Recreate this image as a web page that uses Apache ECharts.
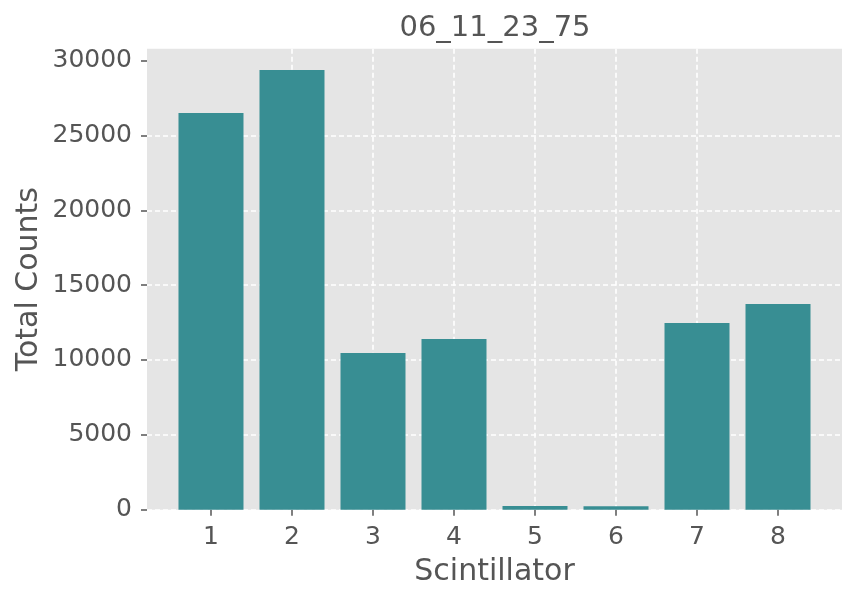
<!DOCTYPE html>
<html>
<head>
<meta charset="utf-8">
<script src="https://cdn.jsdelivr.net/npm/echarts@6/dist/echarts.min.js"></script>
<style>
html,body{margin:0;padding:0;background:#fff;}
#c{width:858px;height:601px;}
</style>
</head>
<body>
<div id="c"></div>
<script>
const titleText = '06_11_23_75';
const categories = [1, 2, 3, 4, 5, 6, 7, 8];
const counts = [26500, 29380, 10470, 11400, 240, 230, 12470, 13740];
const yTicks = [0, 5000, 10000, 15000, 20000, 25000, 30000];
const xName = 'Scintillator';
const yName = 'Total Counts';

const FONT = 'DejaVu Sans';
const TXT = '#555555';
const chart = echarts.init(document.getElementById('c'), null, {renderer: 'canvas'});
const gridLine = {show: true, lineStyle: {color: '#ffffff', width: 1.6, type: [5, 3]}, showMinLine: true, showMaxLine: false};

chart.setOption({
  animation: false,
  backgroundColor: '#ffffff',
  title: {
    text: titleText, left: 490, top: 9, textAlign: 'center',
    textStyle: {fontFamily: FONT, fontSize: 29, fontWeight: 'normal', color: TXT}
  },
  grid: {left: 147, right: 16, top: 48.7, bottom: 91.35, show: true, backgroundColor: '#E5E5E5', borderWidth: 0},
  xAxis: {
    type: 'value', min: 0.21, max: 8.79,
    name: xName, nameLocation: 'middle', nameGap: 48, nameMoveOverlap: false,
    nameTextStyle: {fontFamily: FONT, fontSize: 30, color: TXT},
    axisLine: {show: false},
    axisTick: {show: true, customValues: categories, length: 6, lineStyle: {color: TXT, width: 1.5}},
    axisLabel: {customValues: categories, margin: 15, fontFamily: FONT, fontSize: 25, color: TXT},
    splitLine: Object.assign({}, gridLine, {showMinLine: false})
  },
  yAxis: {
    type: 'value', min: 0, max: 30800,
    name: yName, nameLocation: 'middle', nameGap: 103, nameMoveOverlap: false,
    nameTextStyle: {fontFamily: FONT, fontSize: 30, color: TXT},
    axisLine: {show: false},
    axisTick: {show: true, customValues: yTicks, length: 6, lineStyle: {color: TXT, width: 1.5}},
    axisLabel: {customValues: yTicks, margin: 15, fontFamily: FONT, fontSize: 25, color: TXT,
      formatter: v => String(v), padding: [3, 0, 0, 0]},
    splitLine: gridLine
  },
  series: [{
    type: 'bar',
    data: categories.map((c, i) => [c, counts[i]]),
    barWidth: 65,
    itemStyle: {color: '#388E93'},
    z: 3
  }]
});
</script>
</body>
</html>
